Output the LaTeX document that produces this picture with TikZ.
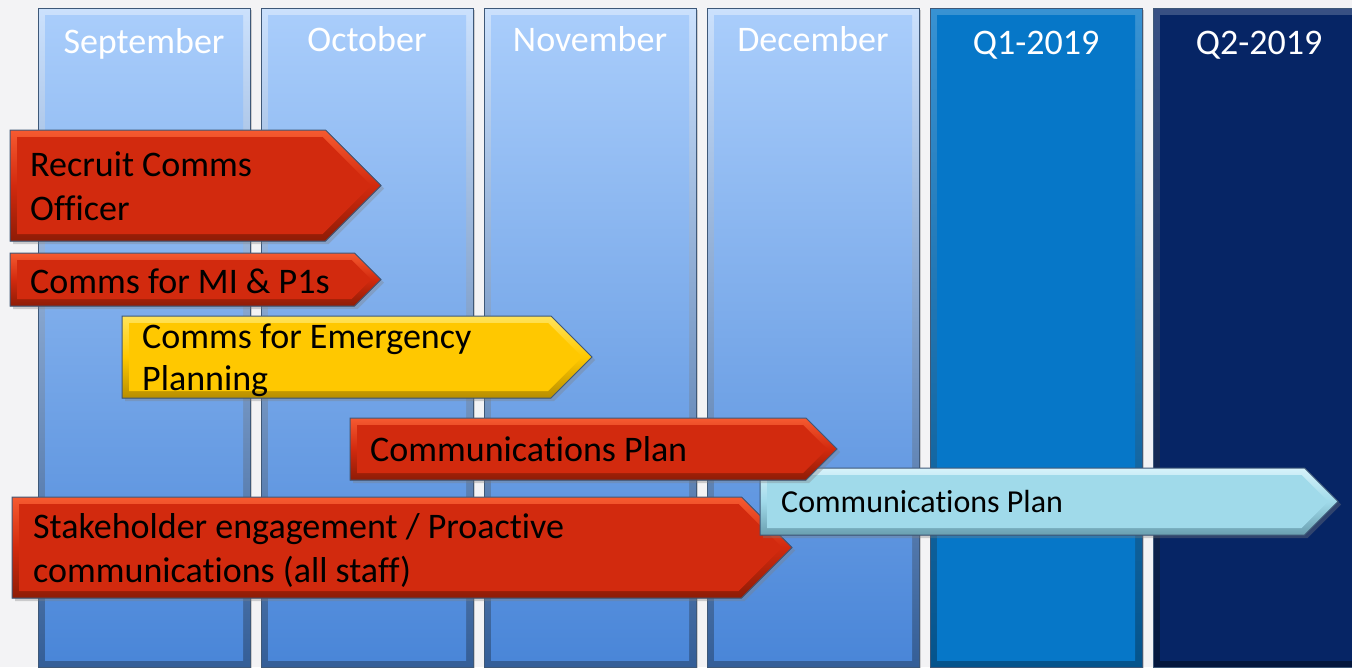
\documentclass[tikz,border=0pt]{standalone}
\usepackage{fontspec}
\setmainfont{Carlito}[Ligatures=NoCommon]
\usetikzlibrary{shadows}
\definecolor{bg}{HTML}{F3F3F5}
\definecolor{edge}{HTML}{3E5878}
\definecolor{lbtop}{HTML}{A9CDFB}
\definecolor{lbbot}{HTML}{4A86D8}
\definecolor{qone}{HTML}{0677C8}
\definecolor{qtwo}{HTML}{062565}
\definecolor{redm}{HTML}{D22A0E}
\definecolor{redt}{HTML}{F65A30}
\definecolor{redb}{HTML}{8E1C06}
\definecolor{yelm}{HTML}{FFC800}
\definecolor{yelt}{HTML}{FFE35A}
\definecolor{yelb}{HTML}{B88E00}
\definecolor{cym}{HTML}{A0DAEA}
\definecolor{cyt}{HTML}{D6F2FA}
\definecolor{cyb}{HTML}{6A9FB0}
\tikzset{
  hdr/.style={text=white, font=\fontsize{36}{42}\selectfont, anchor=base, inner sep=0pt},
  lbl/.style={text=black, font=\fontsize{36}{42}\selectfont, anchor=base west, inner sep=0pt},
  lbls/.style={text=black, font=\fontsize{32}{38}\selectfont, anchor=base west, inner sep=0pt},
}
% column: x1 y1 x2 y2 topcolor bottomcolor ringtop ringbottom
\newcommand{\colbox}[8]{%
  \fill[drop shadow={shadow xshift=2pt,shadow yshift=-2pt,opacity=.35}, top color=#7, bottom color=#8] (#1,#2) rectangle (#3,#4);
  \fill[top color=#5, bottom color=#6] ({#1+7},{#2+7}) rectangle ({#3-7},{#4-7});
  \draw[edge, line width=1pt] (#1,#2) rectangle (#3,#4);
}
% arrow: x1 y1 y2 tip main top bottom
\newcommand{\arrowshape}[7]{%
  \pgfmathsetmacro{\hh}{(#3-#2)/2}%
  \pgfmathsetmacro{\mm}{(#3+#2)/2}%
  \pgfmathsetmacro{\ss}{#4-\hh}%
  \pgfmathsetmacro{\ti}{#4-9.9}%
  \pgfmathsetmacro{\si}{\ti-\hh+7}%
  \fill[drop shadow={shadow xshift=3pt,shadow yshift=-3pt,opacity=.35}, top color=#6, bottom color=#7, middle color=#5]
    (#1,#2) -- (\ss,#2) -- (#4,\mm) -- (\ss,#3) -- (#1,#3) -- cycle;
  \fill[#5] ({#1+7},{#2+7}) -- (\si,{#2+7}) -- (\ti,\mm) -- (\si,{#3-7}) -- ({#1+7},{#3-7}) -- cycle;
  \draw[edge, line width=1pt, line join=miter]
    (#1,#2) -- (\ss,#2) -- (#4,\mm) -- (\ss,#3) -- (#1,#3) -- cycle;
}
\begin{document}
\begin{tikzpicture}[x=1pt,y=-1pt]
\useasboundingbox (0,0) rectangle (1352,667);
\fill[bg] (0,0) rectangle (1352,667);
% columns
\colbox{38}{8}{250}{667}{lbtop}{lbbot}{lbtop!60!white}{lbbot!70!black}
\colbox{261}{8}{473}{667}{lbtop}{lbbot}{lbtop!60!white}{lbbot!70!black}
\colbox{484}{8}{696}{667}{lbtop}{lbbot}{lbtop!60!white}{lbbot!70!black}
\colbox{707}{8}{919}{667}{lbtop}{lbbot}{lbtop!60!white}{lbbot!70!black}
\colbox{930}{8}{1142}{667}{qone}{qone}{qone!80!white}{qone!70!black}
\colbox{1153}{8}{1365}{667}{qtwo}{qtwo}{qtwo!80!white}{qtwo!60!black}
\node[hdr] (sep) at (144,53) {September};
\node[hdr] (oct) at (367,51) {October};
\node[hdr] (nov) at (590,51) {November};
\node[hdr] (dec) at (813,51) {December};
\node[hdr] (qa) at (1036,54) {Q1-2019};
\node[hdr] (qb) at (1259,54) {Q2-2019};
% arrows
\arrowshape{10}{130}{241}{381}{redm}{redt}{redb}
\node[lbl] (rc1) at (30,176) {Recruit Comms};
\node[lbl] (rc2) at (30,220) {Officer};
\arrowshape{10}{253}{306}{381}{redm}{redt}{redb}
\node[lbl] (mi) at (30,293) {Comms for MI \& P1s};
\arrowshape{122}{316}{398}{592}{yelm}{yelt}{yelb}
\node[lbl] (em1) at (142,348) {Comms for Emergency};
\node[lbl] (em2) at (142,390) {Planning};
\arrowshape{12}{497}{598}{792}{redm}{redt}{redb}
\node[lbl] (sh1) at (33,538) {Stakeholder engagement / Proactive};
\node[lbl] (sh2) at (33,582) {communications (all staff)};
\arrowshape{760}{468}{535}{1338}{cym}{cyt}{cyb}
\node[lbls] (cpb) at (781,512) {Communications Plan};
\arrowshape{350}{418}{480}{837}{redm}{redt}{redb}
\node[lbl] (cpr) at (370,461) {Communications Plan};
\end{tikzpicture}
\end{document}
